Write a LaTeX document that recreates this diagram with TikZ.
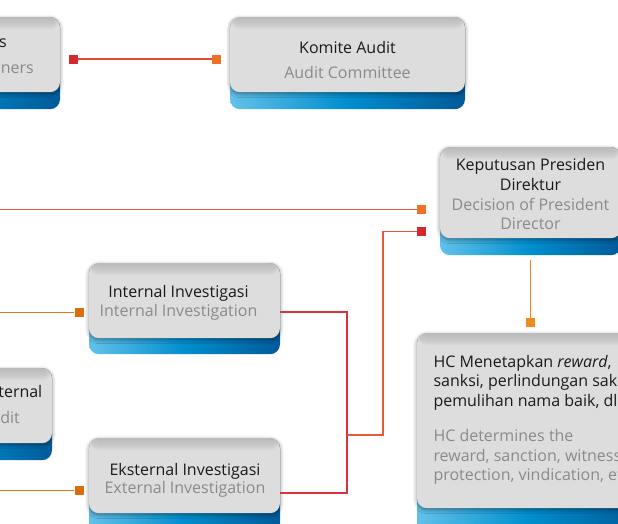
\documentclass[tikz,border=0pt]{standalone}
\usepackage{fontspec}
\setmainfont{Open Sans}
\usetikzlibrary{shadows.blur}
\definecolor{cardgrey}{HTML}{DDDDDD}
\definecolor{cardtop}{HTML}{B4B4B4}
\definecolor{blueL}{HTML}{62C1EA}
\definecolor{blueM}{HTML}{008ECE}
\definecolor{blueD}{HTML}{005A9A}
\definecolor{txtB}{HTML}{1A1A1A}
\definecolor{txtG}{HTML}{8A8A8A}
\definecolor{cRed}{HTML}{D6282F}
\definecolor{cOrange}{HTML}{F07124}
\definecolor{cDark}{HTML}{DA6D0C}
\definecolor{cHC}{HTML}{EF8A20}
\definecolor{lnTop}{HTML}{E4493A}
\definecolor{lnLong}{HTML}{E65A3A}
\definecolor{lnLeft}{HTML}{E07A12}
\definecolor{lnBr}{HTML}{DA3238}
\definecolor{lnBr2}{HTML}{E65A38}
\tikzset{
  card/.style={rectangle, fill=cardgrey, rounded corners=10pt, inner sep=0pt,
    blur shadow={shadow xshift=0pt, shadow yshift=-1.5pt, shadow blur radius=4pt, shadow opacity=45},
    path picture={\foreach \k in {1,...,12}{\fill[cardtop, opacity=0.1]
      (path picture bounding box.north west) rectangle ([yshift=-\k pt]path picture bounding box.north east);}}},
  bluebase/.style={rectangle, rounded corners=10pt, inner sep=0pt,
    left color=blueL, right color=blueD, middle color=blueM},
  tb/.style={inner sep=0pt, anchor=base, text=txtB, font=\fontsize{16}{19}\selectfont},
  tg/.style={inner sep=0pt, anchor=base, text=txtG, font=\fontsize{16}{19}\selectfont},
  sq/.style={rectangle, inner sep=0pt, minimum size=9pt},
  ln/.style={line width=1.8pt},
}
\begin{document}
\begin{tikzpicture}[x=1pt, y=-1pt]
\useasboundingbox (0,0) rectangle (618,523);
\clip (0,0) rectangle (618,523);

% ---------- cards ----------
% Dewan Komisaris (cut)
\node[bluebase, minimum width=235pt, minimum height=92pt, anchor=north] (b1B) at (-57.5,17) {};
\node[card, minimum width=235pt, minimum height=75pt, anchor=north] (b1) at (-57.5,17) {};
% Komite Audit
\node[bluebase, minimum width=235pt, minimum height=92pt, anchor=north] (komB) at (347.5,17) {};
\node[card, minimum width=235pt, minimum height=75pt, anchor=north] (kom) at (347.5,17) {};
% Keputusan
\node[bluebase, minimum width=181pt, minimum height=108pt, anchor=north] (kepB) at (530.5,147) {};
\node[card, minimum width=181pt, minimum height=91pt, anchor=north] (kep) at (530.5,147) {};
% Internal
\node[bluebase, minimum width=191pt, minimum height=91pt, anchor=north] (intB) at (184.5,263) {};
\node[card, minimum width=191pt, minimum height=75pt, anchor=north] (intl) at (184.5,263) {};
% Audit (left, cut)
\node[bluebase, minimum width=191pt, minimum height=92pt, anchor=north] (audB) at (-43.5,368) {};
\node[card, minimum width=191pt, minimum height=75pt, anchor=north] (aud) at (-43.5,368) {};
% Eksternal
\node[bluebase, minimum width=191pt, minimum height=95pt, anchor=north] (extB) at (184.5,438) {};
\node[card, minimum width=191pt, minimum height=75pt, anchor=north] (extl) at (184.5,438) {};
% HC
\node[bluebase, minimum width=223pt, minimum height=200pt, anchor=north] (hcB) at (528.5,333) {};
\node[card, minimum width=223pt, minimum height=175pt, anchor=north] (hc) at (528.5,333) {};

% ---------- texts ----------
\node[tb, anchor=base east] (b1T1) at (7,47) {s};
\node[tg, anchor=base east] (b1T2) at (34,73) {oners};
\node[tb] (komT1) at (347.5,53) {Komite Audit};
\node[tg] (komT2) at (347.5,78) {Audit Committee};
\node[tb] (kepT1) at (530.5,170.5) {Keputusan Presiden};
\node[tb] (kepT2) at (530.5,190.5) {Direktur};
\node[tg] (kepT3) at (530.5,210) {Decision of President};
\node[tg] (kepT4) at (530.5,229.5) {Director};
\node[tb] (intT1) at (178.5,297.3) {Internal Investigasi};
\node[tg] (intT2) at (178.5,316.7) {Internal Investigation};
\node[tb, anchor=base east] (audT1) at (42.5,397.3) {ternal};
\node[tg, anchor=base east] (audT2) at (20,423.3) {dit};
\node[tb] (extT1) at (185,475) {Eksternal Investigasi};
\node[tg] (extT2) at (185,493.3) {External Investigation};
\node[tb, anchor=base west] (hcT1) at (433.3,367.3) {HC Menetapkan \textit{reward},};
\node[tb, anchor=base west] (hcT2) at (433.3,386.7) {sanksi, perlindungan saksi,};
\node[tb, anchor=base west] (hcT3) at (433.3,406) {pemulihan nama baik, dll.};
\node[tg, anchor=base west] (hcT4) at (433.3,441.7) {HC determines the};
\node[tg, anchor=base west] (hcT5) at (433.3,461) {reward, sanction, witness};
\node[tg, anchor=base west] (hcT6) at (433.3,480) {protection, vindication, etc.};

% ---------- squares ----------
\node[sq, fill=cRed] (sA) at (73.5,59) {};
\node[sq, fill=cOrange] (sB) at (216.5,59) {};
\node[sq, fill=cOrange] (sC) at (421.5,209.5) {};
\node[sq, fill=cRed] (sD) at (421.5,231.5) {};
\node[sq, fill=cDark] (sE) at (79,312.5) {};
\node[sq, fill=cDark] (sF) at (79,490.5) {};
\node[sq, fill=cHC] (sG) at (530.5,322.5) {};

% ---------- free ends / junctions ----------
\coordinate (L1) at (-3,209.5);
\coordinate (L2) at (-3,312.5);
\coordinate (L3) at (-3,490.5);
\coordinate (j1) at (346.7,435);
\coordinate (j2) at (383.3,435);

% ---------- connectors ----------
\draw[ln, lnTop] (sA) -- (sB);
\draw[ln, lnLong] (L1) -- (sC);
\draw[ln, lnLeft] (L2) -- (sE);
\draw[ln, lnLeft] (L3) -- (sF);
\draw[ln, lnBr] ([yshift=-11.2pt]intl.east) -| (j1) |- ([yshift=-17.2pt]extl.east);
\draw[ln, lnBr2] (j1) -- (j2) |- (sD);
\draw[ln, cHC] ([yshift=-5pt]kepB.south) -- (sG);
\end{tikzpicture}
\end{document}
